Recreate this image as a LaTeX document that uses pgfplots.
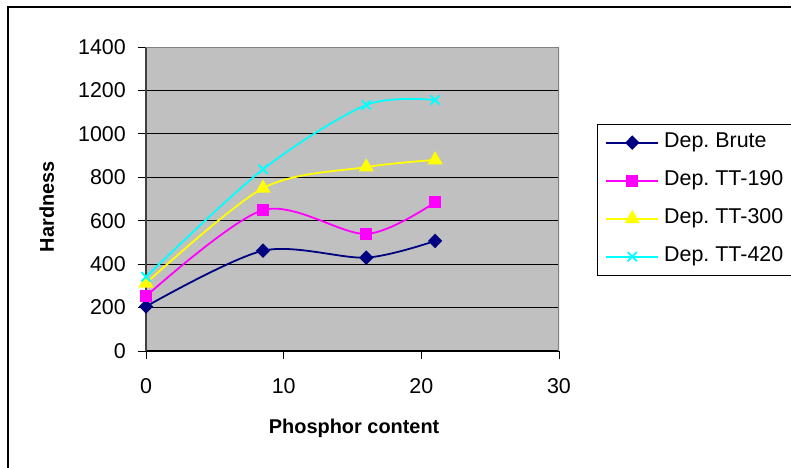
\documentclass[border=0pt]{standalone}
\usepackage{pgfplots}
\pgfplotsset{compat=1.18}
\usepackage{fontspec}
\setmainfont{Liberation Sans}
\frenchspacing

\definecolor{plotgray}{RGB}{192,192,192}
\definecolor{bordergray}{RGB}{128,128,128}
\definecolor{navy}{RGB}{0,0,128}
\definecolor{xlmagenta}{RGB}{255,0,255}
\definecolor{xlyellow}{RGB}{255,255,0}
\definecolor{xlcyan}{RGB}{0,255,255}
\newcommand{\lgd}[1]{\makebox[150bp][l]{#1}}

\begin{document}
\begin{tikzpicture}
\useasboundingbox (0,0) rectangle (791bp,-468bp);
% chart frame (right and bottom edges fall outside the picture)
\draw[line width=1.5bp] (8bp,-600bp) |- (900bp,-7bp);
\begin{axis}[
  at={(146bp,-351bp)}, anchor=south west,
  scale only axis, width=413bp, height=304bp,
  xmin=0, xmax=30, ymin=0, ymax=1400,
  xtick={0,10,20,30}, ytick={0,200,...,1400},
  axis lines*=left, axis line style={-},
  x axis line style={black, line width=1.3bp},
  y axis line style={black!75, line width=1.8bp},
  axis background/.style={fill=plotgray},
  ymajorgrids, grid style={black, line width=0.9bp},
  tick align=outside, major tick length=8bp,
  tick style={black, line width=1bp},
  /pgf/number format/assume math mode=true,
  /pgf/number format/1000 sep={},
  ticklabel style={font=\fontsize{21.5}{21.5}\selectfont, inner sep=0pt},
  xticklabel style={anchor=north, yshift=-19bp},
  yticklabel style={anchor=east, xshift=-12bp},
  xlabel={Phosphor content}, ylabel={Hardness},
  every axis x label/.style={at={(axis description cs:0.504,-0.253)}, anchor=center,
    font=\fontsize{20}{20}\selectfont\bfseries},
  every axis y label/.style={at={(axis description cs:-0.24,0.475)}, anchor=center, rotate=90,
    font=\fontsize{20}{20}\selectfont\bfseries},
  legend style={at={(1.092,0.7467)}, anchor=north west, draw=black, line width=0.8bp,
    fill=white, font=\fontsize{21.5}{21.5}\selectfont, row sep=16.5bp,
    inner xsep=8bp, inner ysep=7.5bp,
    nodes={inner sep=1bp, text height=15bp, text depth=4.5bp},
    /tikz/every odd column/.append style={column sep=4bp}},
  legend cell align=left,
  legend image code/.code={\draw[mark repeat=2, mark phase=2, #1]
    plot coordinates {(0bp,0bp) (26bp,0bp) (52bp,0bp)};},
  every axis plot/.append style={smooth, tension=0.5, line width=1.8bp},
]
\addplot[navy, mark=diamond*, mark size=6bp, mark options={xscale=1.3}]
  coordinates {(0,205) (8.5,462) (16,430) (21,507)};
\addlegendentry{\lgd{Dep. Brute}}
\addplot[xlmagenta, mark=square*, mark size=5bp]
  coordinates {(0,252) (8.5,649) (16,539) (21,685)};
\addlegendentry{\lgd{Dep. TT-190}}
\addplot[xlyellow, mark=triangle*, mark size=7bp]
  coordinates {(0,312) (8.5,750) (16,847) (21,880)};
\addlegendentry{\lgd{Dep. TT-300}}
\addplot[xlcyan, mark=x, mark size=6.5bp]
  coordinates {(0,342) (8.5,837) (16,1133) (21,1156)};
\addlegendentry{\lgd{Dep. TT-420}}
\draw[bordergray, line width=1.2bp] (rel axis cs:0,1) -- (rel axis cs:1,1) -- (rel axis cs:1,0);
\end{axis}
\end{tikzpicture}
\end{document}
